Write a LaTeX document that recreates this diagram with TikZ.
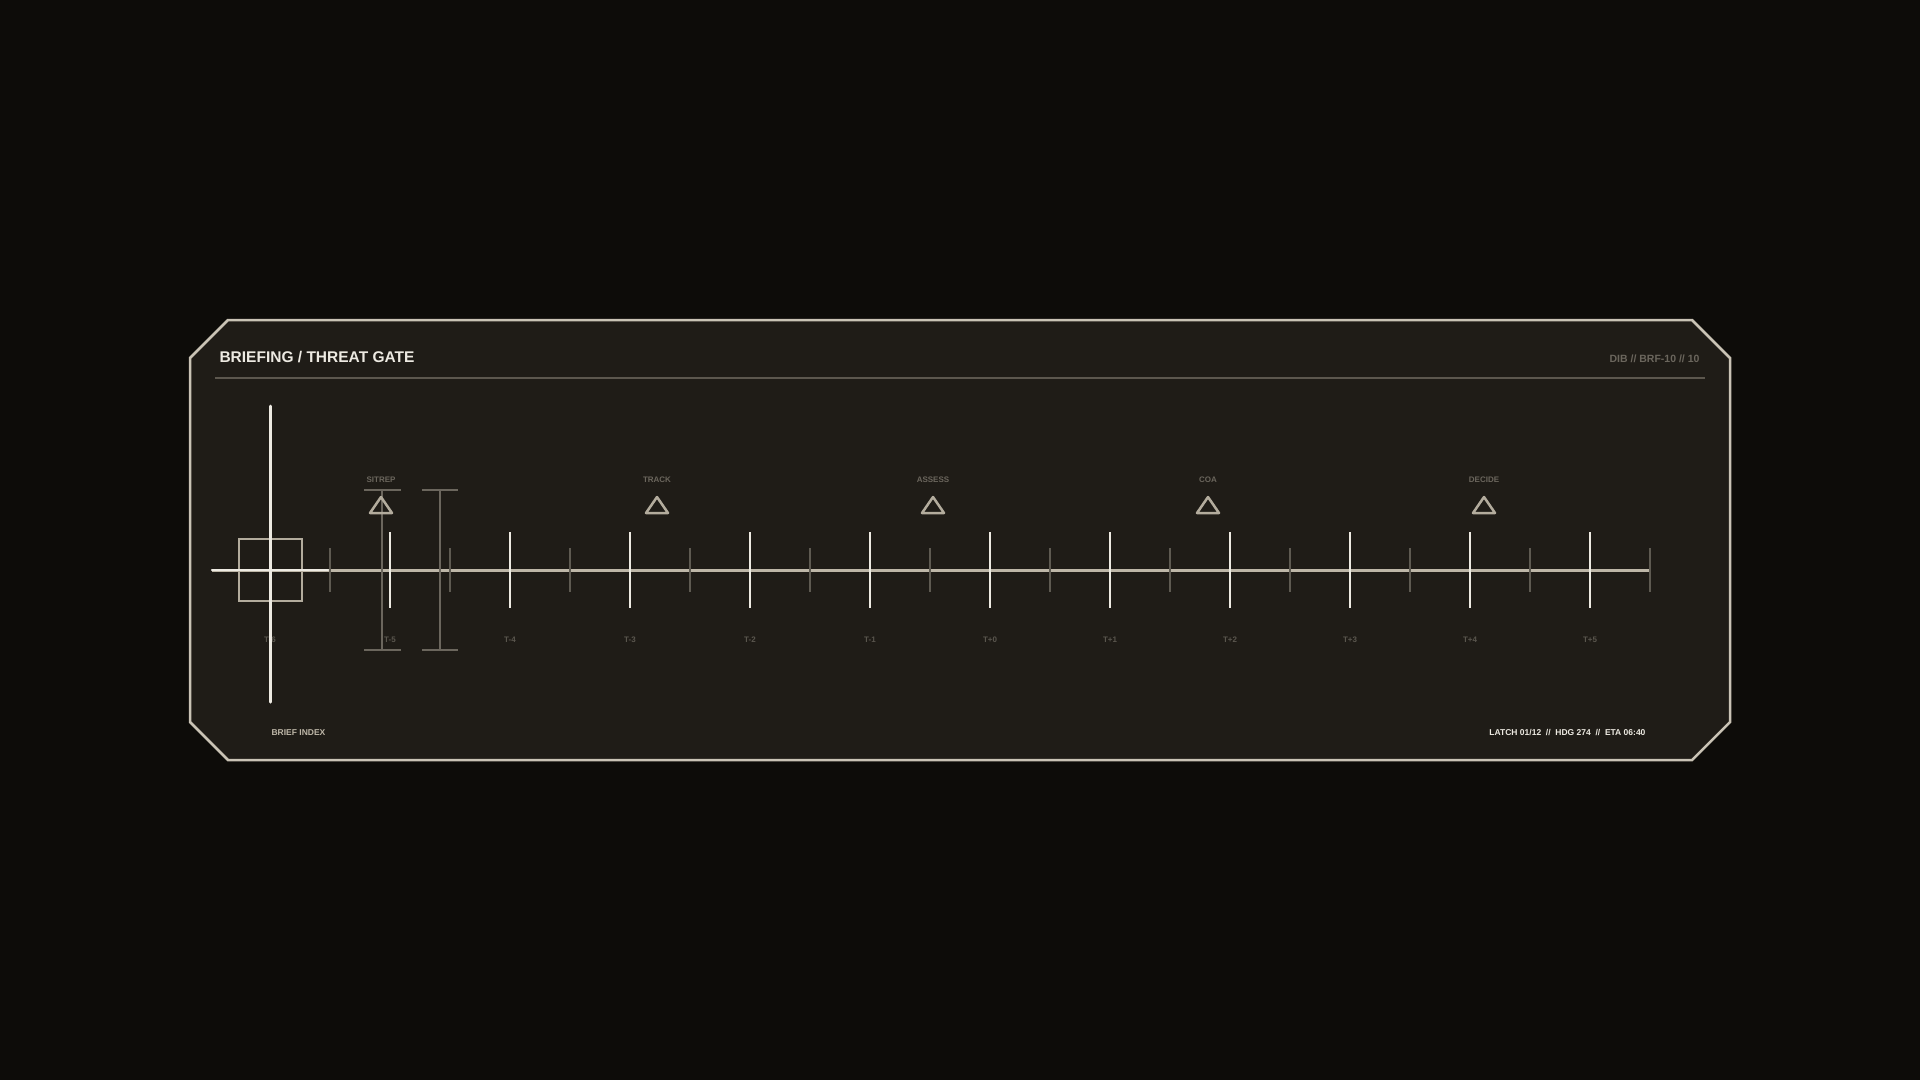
\documentclass[tikz,border=0pt]{standalone}
\usepackage{fontspec}
\setmainfont{Liberation Sans}
\definecolor{bgdark}{HTML}{0D0C09}
\definecolor{panelfill}{HTML}{1F1C17}
\definecolor{framecol}{HTML}{C9C3B5}
\definecolor{rulecol}{HTML}{5C574E}
\definecolor{minorcol}{HTML}{5E5A51}
\definecolor{majorcol}{HTML}{EDEAE2}
\definecolor{axiscol}{HTML}{BDB6A7}
\definecolor{dimtext}{HTML}{6B665D}
\definecolor{ticktext}{HTML}{5A564E}
\definecolor{boxcol}{HTML}{B3AC9D}
\tikzset{
  frame/.style={draw=framecol, line width=2.5pt, fill=panelfill},
  minortick/.style={draw=minorcol, line width=2.5pt},
  majortick/.style={draw=majorcol, line width=2.5pt},
  bracket/.style={draw=dimtext, line width=1.5pt},
  marker/.style={draw=boxcol, line width=2.5pt, line join=round},
  ticklab/.style={text=ticktext, font=\bfseries\fontsize{8}{8}\selectfont, anchor=base},
  marklab/.style={text=dimtext, font=\bfseries\fontsize{8}{8}\selectfont, anchor=base},
}
\begin{document}
\begin{tikzpicture}[x=1pt,y=-1pt]
      \useasboundingbox (0,0) rectangle (1920,1080);
      \fill[bgdark] (0,0) rectangle (1920,1080);
      % panel
      \draw[frame] (228,320) -- (1692,320) -- (1730,358) -- (1730,722)
        -- (1692,760) -- (228,760) -- (190,722) -- (190,358) -- cycle;
      \node[anchor=base west, text=majorcol, font=\bfseries\fontsize{15.5}{15.5}\selectfont]
        (title) at (216,362) {BRIEFING / THREAT GATE};
      \node[anchor=base east, text=dimtext, font=\bfseries\fontsize{10.5}{10.5}\selectfont]
        (docref) at (1703,362) {DIB // BRF-10 // 10};
      \draw[rulecol, line width=1.5pt] (215,378) -- (1705,378);
      % axis
      \draw[axiscol, line width=3pt] (212,570) -- (1650,570);
      \draw[minortick]
        (330,548) -- (330,592) (450,548) -- (450,592) (570,548) -- (570,592)
        (690,548) -- (690,592) (810,548) -- (810,592) (930,548) -- (930,592)
        (1050,548) -- (1050,592) (1170,548) -- (1170,592) (1290,548) -- (1290,592)
        (1410,548) -- (1410,592) (1530,548) -- (1530,592) (1650,548) -- (1650,592);
      \draw[majortick]
        (390,532) -- (390,608) (510,532) -- (510,608) (630,532) -- (630,608)
        (750,532) -- (750,608) (870,532) -- (870,608) (990,532) -- (990,608)
        (1110,532) -- (1110,608) (1230,532) -- (1230,608) (1350,532) -- (1350,608)
        (1470,532) -- (1470,608) (1590,532) -- (1590,608);
      \draw
        (270,642) node[ticklab] (t0){T-6}
        (390,642) node[ticklab] (t1){T-5}
        (510,642) node[ticklab] (t2){T-4}
        (630,642) node[ticklab] (t3){T-3}
        (750,642) node[ticklab] (t4){T-2}
        (870,642) node[ticklab] (t5){T-1}
        (990,642) node[ticklab] (t6){T+0}
        (1110,642) node[ticklab] (t7){T+1}
        (1230,642) node[ticklab] (t8){T+2}
        (1350,642) node[ticklab] (t9){T+3}
        (1470,642) node[ticklab] (t10){T+4}
        (1590,642) node[ticklab] (t11){T+5};
      % gate brackets
      \draw[bracket] (364,490) -- (401,490) (382,490) -- (382,650) (364,650) -- (401,650);
      \draw[bracket] (422,490) -- (458,490) (440,490) -- (440,650) (422,650) -- (458,650);
      % phase markers
      \draw
        (381,482) node[marklab] (m1){SITREP}
        (657,482) node[marklab] (m2){TRACK}
        (933,482) node[marklab] (m3){ASSESS}
        (1208,482) node[marklab] (m4){COA}
        (1484,482) node[marklab] (m5){DECIDE};
      \draw[marker] (370,513) -- (381,497) -- (392,513) -- cycle;
      \draw[marker] (646,513) -- (657,497) -- (668,513) -- cycle;
      \draw[marker] (922,513) -- (933,497) -- (944,513) -- cycle;
      \draw[marker] (1197,513) -- (1208,497) -- (1219,513) -- cycle;
      \draw[marker] (1473,513) -- (1484,497) -- (1495,513) -- cycle;
      % crosshair cursor
      \draw[boxcol, line width=2.5pt] (239,539) rectangle (302,601);
      \draw[majorcol, line width=2.5pt, line cap=round] (212,570) -- (328,570);
      \draw[majorcol, line width=3pt, line cap=round] (270,406) -- (270,702);
      % footer
      \node[anchor=base west, text=axiscol, font=\bfseries\fontsize{8.5}{8.5}\selectfont]
        (index) at (268,735.5) {BRIEF INDEX};
      \node[anchor=base east, text=majorcol, font=\bfseries\fontsize{8.5}{8.5}\selectfont]
        (status) at (1649,735.5) {LATCH 01/12\ \ //\ \ HDG 274\ \ //\ \ ETA 06:40};
    \end{tikzpicture}
\end{document}
